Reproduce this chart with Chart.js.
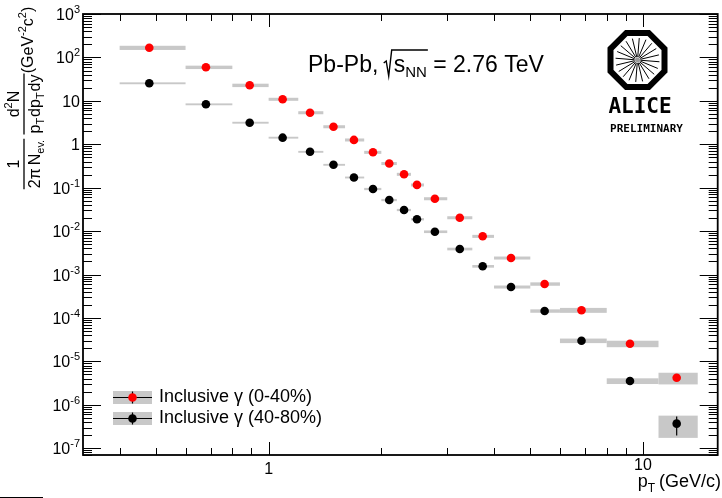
<!DOCTYPE html>
<html>
<head>
<meta charset="utf-8">
<script src="https://cdn.jsdelivr.net/npm/chart.js@4.4.1/dist/chart.umd.min.js"></script>
<style>
  html, body { margin: 0; padding: 0; background: #fff; }
  #wrap { position: relative; width: 722px; height: 498px; }
</style>
</head>
<body>
<div id="wrap"><canvas id="spectrum" width="722" height="498"></canvas></div>
<script>
// ── Dados ────────────────────────────────────────────────────
const binEdges = [0.4, 0.6, 0.8, 1.0, 1.2, 1.4, 1.6, 1.8, 2.0, 2.2, 2.4, 2.6, 3.0, 3.5, 4.0, 5.0, 6.0, 8.0, 11, 14];
const ptMean   = [0.48, 0.68, 0.89, 1.09, 1.29, 1.49, 1.69, 1.9, 2.1, 2.3, 2.49, 2.78, 3.24, 3.73, 4.44, 5.46, 6.85, 9.23, 12.3];

const yieldCentral    = [167, 59.3, 22.8, 10.9, 5.34, 2.54, 1.26, 0.654, 0.361, 0.204, 0.116, 0.0559, 0.0204, 0.0076, 0.00241, 6.07e-4, 1.51e-4, 2.56e-5, 4.22e-6];
const yieldPeripheral = [25.4, 8.33, 3.14, 1.42, 0.671, 0.337, 0.172, 0.0935, 0.0521, 0.0307, 0.0188, 0.0097, 0.00388, 0.00155, 5.18e-4, 1.45e-4, 3.0e-5, 3.55e-6, 3.69e-7];

// erros relativos: sistemático (caixa cinza) e estatístico (barra)
const sysCentral    = [0.11, 0.09, 0.09, 0.08, 0.08, 0.08, 0.08, 0.08, 0.08, 0.08, 0.08, 0.08, 0.08, 0.08, 0.08, 0.09, 0.13, 0.17, 0.30];
const sysPeripheral = [0.05, 0.05, 0.05, 0.05, 0.05, 0.05, 0.05, 0.06, 0.06, 0.06, 0.06, 0.07, 0.07, 0.07, 0.08, 0.09, 0.12, 0.15, 0.53];
const statCentral    = [0.01, 0.01, 0.01, 0.01, 0.01, 0.01, 0.01, 0.01, 0.01, 0.01, 0.01, 0.01, 0.01, 0.01, 0.02, 0.02, 0.03, 0.05, 0.10];
const statPeripheral = [0.01, 0.01, 0.01, 0.01, 0.01, 0.01, 0.01, 0.01, 0.01, 0.01, 0.01, 0.01, 0.01, 0.02, 0.02, 0.03, 0.05, 0.10, 0.47];

const seriesLabels  = ['Inclusive \u03B3 (0-40%)', 'Inclusive \u03B3 (40-80%)'];
const seriesColors  = ['#ff0000', '#000000'];
const xTickLabels   = [1, 10];
const yTickExponents = [3, 2, 1, 0, -1, -2, -3, -4, -5, -6, -7];

// ── Estilo ───────────────────────────────────────────────────
const FONT = '"Liberation Sans", Arial, Helvetica, sans-serif';
const BOX_GRAY = '#c8c8c8';

function runsWidth(ctx, runs) {
  let w = 0;
  runs.forEach(r => { ctx.font = `${r.size}px ${FONT}`; w += ctx.measureText(r.t).width + (r.gap || 0); });
  return w;
}
function drawRuns(ctx, runs, x, y) {
  ctx.textAlign = 'left';
  ctx.textBaseline = 'alphabetic';
  runs.forEach(r => {
    ctx.font = `${r.size}px ${FONT}`;
    ctx.fillText(r.t, x, y + (r.dy || 0));
    x += ctx.measureText(r.t).width + (r.gap || 0);
  });
  return x;
}

// ── Caixas de erro sistemático + barras estatísticas ─────────
const errorBoxes = {
  id: 'errorBoxes',
  beforeDatasetsDraw(chart) {
    const { ctx, chartArea: a, scales: { x, y } } = chart;
    const sets = [
      { v: yieldCentral, sys: sysCentral, stat: statCentral },
      { v: yieldPeripheral, sys: sysPeripheral, stat: statPeripheral }
    ];
    ctx.save();
    ctx.beginPath();
    ctx.rect(a.left, a.top, a.right - a.left, a.bottom - a.top);
    ctx.clip();
    ctx.fillStyle = BOX_GRAY;
    sets.forEach(s => {
      s.v.forEach((v, i) => {
        const x1 = x.getPixelForValue(binEdges[i]);
        const x2 = x.getPixelForValue(binEdges[i + 1]);
        const y1 = y.getPixelForValue(v * (1 + s.sys[i]));
        const y2 = y.getPixelForValue(v * (1 - s.sys[i]));
        ctx.fillRect(x1, y1, x2 - x1, Math.max(y2 - y1, 1.6));
      });
    });
    ctx.strokeStyle = '#000';
    ctx.lineWidth = 1.2;
    sets.forEach(s => {
      s.v.forEach((v, i) => {
        const px = x.getPixelForValue(ptMean[i]);
        ctx.beginPath();
        ctx.moveTo(px, y.getPixelForValue(v * (1 + s.stat[i])));
        ctx.lineTo(px, y.getPixelForValue(v * (1 - s.stat[i])));
        ctx.stroke();
      });
    });
    ctx.restore();
  }
};

// ── Moldura, marcas, rótulos, legenda, logo ──────────────────
const rootFrame = {
  id: 'rootFrame',
  afterDraw(chart) {
    const { ctx, chartArea: a, scales: { x, y } } = chart;
    ctx.save();
    ctx.strokeStyle = '#000';
    ctx.fillStyle = '#000';

    // marcas do eixo x (em cima e embaixo)
    ctx.lineWidth = 1;
    [0.1, 1, 10].forEach(d => {
      for (let k = 1; k <= 9; k++) {
        const v = k * d;
        if (v < x.min || v > x.max) continue;
        const px = Math.round(x.getPixelForValue(v)) + 0.5;
        const len = k === 1 ? 13 : 7;
        ctx.beginPath();
        ctx.moveTo(px, a.bottom); ctx.lineTo(px, a.bottom - len);
        ctx.moveTo(px, a.top); ctx.lineTo(px, a.top + len);
        ctx.stroke();
      }
    });
    // marcas do eixo y (esquerda e direita)
    for (let e = -8; e <= 3; e++) {
      for (let k = 1; k <= 9; k++) {
        const v = k * Math.pow(10, e);
        if (v < y.min || v > y.max) continue;
        const py = Math.round(y.getPixelForValue(v)) + 0.5;
        const len = k === 1 ? 18 : 9;
        ctx.beginPath();
        ctx.moveTo(a.left, py); ctx.lineTo(a.left + len, py);
        ctx.moveTo(a.right, py); ctx.lineTo(a.right - len, py);
        ctx.stroke();
      }
    }
    // moldura
    ctx.lineWidth = 1.8;
    ctx.strokeRect(a.left, a.top, a.right - a.left, a.bottom - a.top);

    // rótulos do eixo y
    yTickExponents.forEach(e => {
      const py = y.getPixelForValue(Math.pow(10, e));
      let runs;
      if (e === 0) runs = [{ t: '1', size: 16 }];
      else if (e === 1) runs = [{ t: '10', size: 16 }];
      else runs = [{ t: '10', size: 16 }, { t: String(e), size: 11, dy: -7 }];
      const w = runsWidth(ctx, runs);
      drawRuns(ctx, runs, 80 - w, py + 6);
    });
    // rótulos do eixo x
    ctx.font = `16px ${FONT}`;
    ctx.textAlign = 'center';
    ctx.textBaseline = 'middle';
    xTickLabels.forEach((v, i) => {
      ctx.fillText(String(v), x.getPixelForValue(v), i === 0 ? 470 : 466);
    });

    // título do eixo x
    const xt = [{ t: 'p', size: 18 }, { t: 'T', size: 12, dy: 5, gap: 4 }, { t: '(GeV/c)', size: 18 }];
    drawRuns(ctx, xt, 721 - runsWidth(ctx, xt), 487);

    // título do eixo y (rotacionado)
    ctx.save();
    ctx.translate(0, 200);
    ctx.rotate(-Math.PI / 2);
    ctx.lineWidth = 1.3;
    // 1 / (2π N_ev.)
    const c1 = 36;
    const r1 = [{ t: '1', size: 16 }];
    drawRuns(ctx, r1, c1 - runsWidth(ctx, r1) / 2, 19);
    const r2 = [{ t: '2\u03C0', size: 16, gap: 3 }, { t: 'N', size: 16 }, { t: 'ev.', size: 11, dy: 4 }];
    const w2 = runsWidth(ctx, r2);
    drawRuns(ctx, r2, c1 - w2 / 2, 40);
    ctx.beginPath(); ctx.moveTo(c1 - w2 / 2 - 1, 24); ctx.lineTo(c1 + w2 / 2 + 1, 24); ctx.stroke();
    // d²N / (p_T dp_T dy)
    const c2 = 96;
    const r3 = [{ t: 'd', size: 16 }, { t: '2', size: 11, dy: -7 }, { t: 'N', size: 16 }];
    drawRuns(ctx, r3, c2 - runsWidth(ctx, r3) / 2, 19);
    const r4 = [{ t: 'p', size: 16 }, { t: 'T', size: 11, dy: 4, gap: 1 }, { t: 'dp', size: 16 }, { t: 'T', size: 11, dy: 4, gap: 1 }, { t: 'dy', size: 16 }];
    const w4 = runsWidth(ctx, r4);
    drawRuns(ctx, r4, c2 - w4 / 2, 40);
    ctx.beginPath(); ctx.moveTo(c2 - w4 / 2 - 1, 24); ctx.lineTo(c2 + w4 / 2 + 1, 24); ctx.stroke();
    // (GeV⁻²c²)
    const r5 = [{ t: '(GeV', size: 16 }, { t: '-2', size: 11, dy: -7 }, { t: 'c', size: 16 }, { t: '2', size: 11, dy: -7 }, { t: ')', size: 16 }];
    drawRuns(ctx, r5, 160 - runsWidth(ctx, r5) / 2, 33);
    ctx.restore();

    // texto do sistema
    let tx = drawRuns(ctx, [{ t: 'Pb-Pb, ', size: 23 }], 308, 72);
    const sw = runsWidth(ctx, [{ t: 's', size: 23 }, { t: 'NN', size: 15 }]);
    ctx.lineWidth = 1.4;
    ctx.beginPath();
    ctx.moveTo(tx - 1, 63); ctx.lineTo(tx + 1.5, 61); ctx.lineTo(tx + 4, 76);
    ctx.lineTo(tx + 7, 50); ctx.lineTo(tx + 9 + sw + 1, 50);
    ctx.stroke();
    tx = drawRuns(ctx, [{ t: 's', size: 23 }, { t: 'NN', size: 15, dy: 5 }], tx + 9, 72);
    drawRuns(ctx, [{ t: ' = 2.76 TeV', size: 23 }], tx, 72);

    // legenda
    const rowsY = [397.5, 418.5];
    seriesLabels.forEach((lab, i) => {
      const cy = rowsY[i];
      ctx.fillStyle = BOX_GRAY;
      ctx.fillRect(113, cy - 6.5, 39, 13);
      ctx.strokeStyle = '#000';
      ctx.lineWidth = 1.2;
      ctx.beginPath();
      ctx.moveTo(113, cy); ctx.lineTo(152, cy);
      ctx.moveTo(132.5, cy - 6); ctx.lineTo(132.5, cy + 6);
      ctx.stroke();
      ctx.fillStyle = seriesColors[i];
      ctx.beginPath(); ctx.arc(132.5, cy, 4.3, 0, Math.PI * 2); ctx.fill();
      ctx.fillStyle = '#000';
      ctx.font = `18px ${FONT}`;
      ctx.textAlign = 'left';
      ctx.textBaseline = 'middle';
      ctx.fillText(lab, 159, cy);
    });

    // logo ALICE
    const cx = 637.5, cyl = 60, rp = 27 / Math.cos(Math.PI / 8);
    ctx.strokeStyle = '#000';
    ctx.lineWidth = 6;
    ctx.beginPath();
    for (let i = 0; i < 8; i++) {
      const ang = Math.PI / 8 + i * Math.PI / 4;
      const px = cx + rp * Math.cos(ang), py = cyl + rp * Math.sin(ang);
      i ? ctx.lineTo(px, py) : ctx.moveTo(px, py);
    }
    ctx.closePath();
    ctx.stroke();
    ctx.lineWidth = 1;
    for (let i = 0; i < 20; i++) {
      const ang = i * Math.PI / 10 + 0.08;
      ctx.beginPath();
      ctx.moveTo(cx + 3 * Math.cos(ang), cyl + 3 * Math.sin(ang));
      ctx.lineTo(cx + 22 * Math.cos(ang), cyl + 22 * Math.sin(ang));
      ctx.stroke();
    }
    ctx.fillStyle = '#999';
    ctx.beginPath(); ctx.arc(cx, cyl, 2.5, 0, Math.PI * 2); ctx.fill();
    ctx.fillStyle = '#000';
    ctx.textAlign = 'center';
    ctx.textBaseline = 'alphabetic';
    ctx.font = 'bold 21px "DejaVu Sans Mono", monospace';
    ctx.fillText('ALICE', 640, 113);
    ctx.font = 'bold 11px "DejaVu Sans Mono", monospace';
    ctx.fillText('PRELIMINARY', 646.5, 132);

    // traço no canto inferior esquerdo
    ctx.lineWidth = 1;
    ctx.beginPath(); ctx.moveTo(0, 497.5); ctx.lineTo(43, 497.5); ctx.stroke();
    ctx.restore();
  }
};

// ── Gráfico ──────────────────────────────────────────────────
const toPoints = vals => vals.map((v, i) => ({ x: ptMean[i], y: v }));

new Chart(document.getElementById('spectrum').getContext('2d'), {
  type: 'scatter',
  data: {
    datasets: [
      { label: seriesLabels[0], data: toPoints(yieldCentral), backgroundColor: seriesColors[0], borderWidth: 0, pointRadius: 4.3 },
      { label: seriesLabels[1], data: toPoints(yieldPeripheral), backgroundColor: seriesColors[1], borderWidth: 0, pointRadius: 4.3 }
    ]
  },
  options: {
    responsive: false,
    devicePixelRatio: 1,
    animation: false,
    layout: { padding: { left: 83, top: 14, right: 4, bottom: 43 } },
    scales: {
      x: { type: 'logarithmic', min: 0.3193, max: 15.83, bounds: 'data', display: false },
      y: { type: 'logarithmic', min: 7.0e-8, max: 1000, bounds: 'data', display: false }
    },
    plugins: { legend: { display: false }, tooltip: { enabled: false } }
  },
  plugins: [errorBoxes, rootFrame]
});
</script>
</body>
</html>
